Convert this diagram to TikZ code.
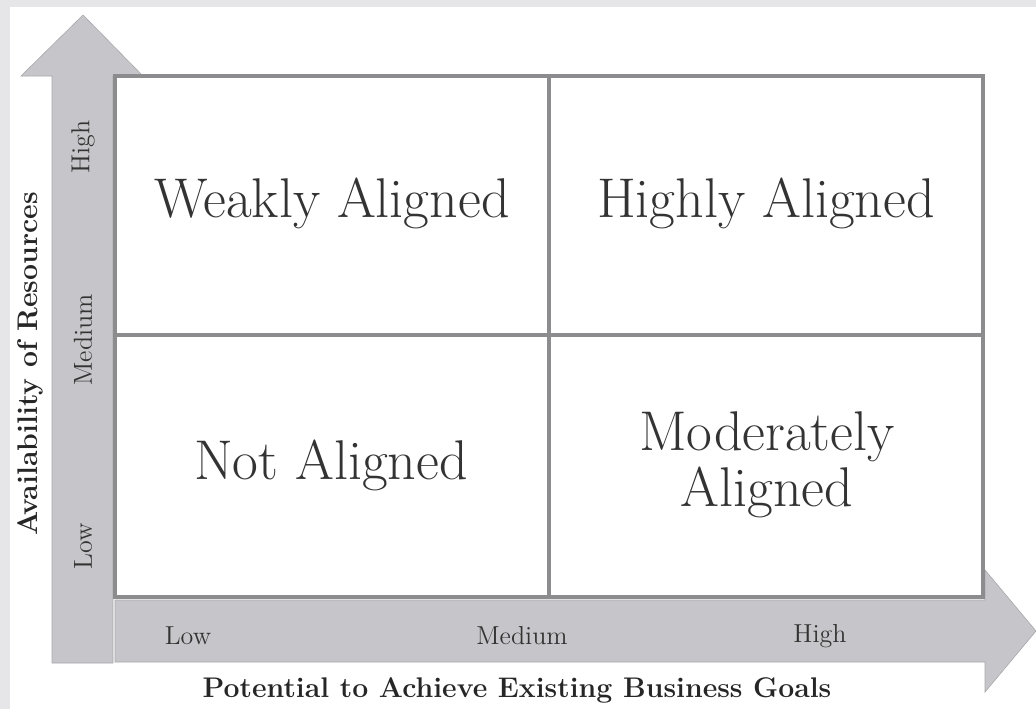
\documentclass[tikz,border=0pt]{standalone}
\usepackage{tikz}
\usetikzlibrary{positioning}
\definecolor{arrowgray}{HTML}{C6C6CA}
\definecolor{gridgray}{HTML}{8C8C8E}
\definecolor{framegray}{HTML}{E6E6E8}

\begin{document}
\begin{tikzpicture}[x=0.5pt,y=-0.5pt,
  cell/.style={font=\fontsize{28}{28}\selectfont,align=center,text=black!80},
  tick/.style={font=\fontsize{13}{15}\selectfont,text=black!80},
  axis/.style={font=\fontsize{14.2}{16}\selectfont\bfseries,text=black!85},
  arrowbody/.style={fill=arrowgray,draw=arrowgray!85!black,line width=0.3pt},
  gridline/.style={draw=gridgray,line width=1.6pt}
]
% page with its light frame
\fill[framegray] (0,0) rectangle (1036,709);
\fill[white] (10,7) rectangle (1036,709);
\useasboundingbox (0,0) rectangle (1036,709);

% axis arrows
\path[arrowbody] (52,663) -- (52,76) -- (21,76) -- (83,15) -- (143,76) -- (113,76) -- (113,663) -- cycle;
\path[arrowbody] (115,600) -- (985,600) -- (985,570) -- (1036,631) -- (985,692) -- (985,662) -- (115,662) -- cycle;

% the four cells
\fill[white] (115,76) rectangle (983,597);
\draw[gridline] (115,76) rectangle (983,597);
\draw[gridline] (549,76) -- (549,597);
\draw[gridline] (115,335) -- (983,335);

\node[cell] (weak) at (332,203) {Weakly Aligned};
\node[cell] (high) at (766,203) {Highly Aligned};
\node[cell] (not) at (331,465) {Not Aligned};
\node[cell] (mod) at (767,465) {Moderately\\Aligned};

% ticks along the arrows
\node[tick] (xlow) at (188,636) {Low};
\node[tick] (xmed) at (522,636) {Medium};
\node[tick] (xhigh) at (820,636) {High};
\node[tick,rotate=90] (ylow) at (83,546) {Low};
\node[tick,rotate=90] (ymed) at (83,340) {Medium};
\node[tick,rotate=90] (yhigh) at (83,147) {High};

% axis titles
\node[axis] (xtitle) at (517,690) {Potential to Achieve Existing Business Goals};
\node[axis,rotate=90] (ytitle) at (30,364) {Availability of Resources};
\end{tikzpicture}
\end{document}
